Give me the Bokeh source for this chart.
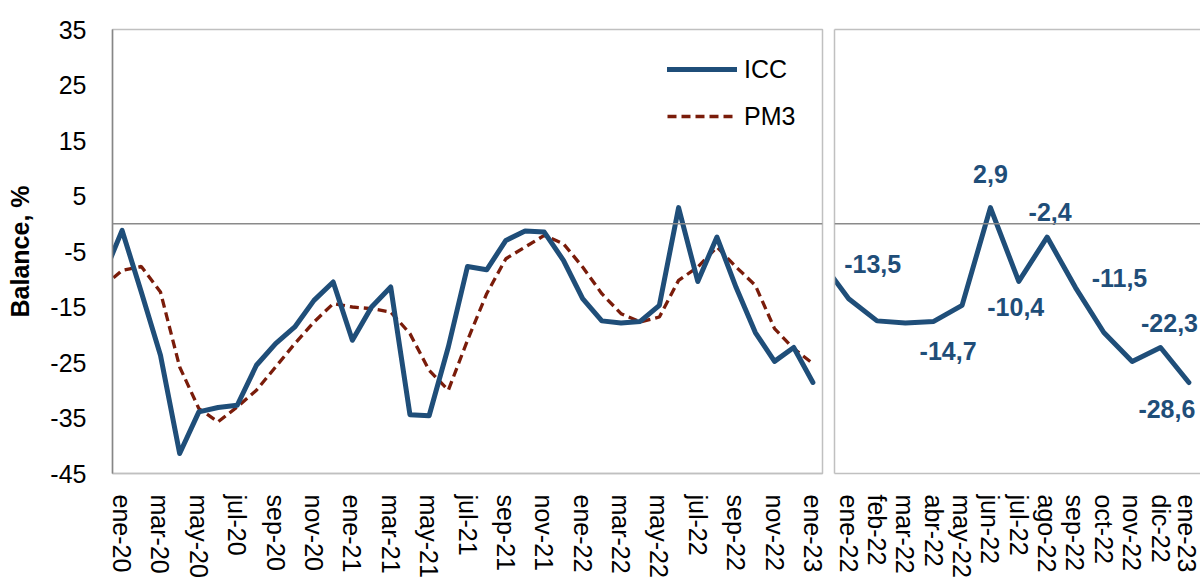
from bokeh.plotting import figure
from bokeh.models import (FixedTicker, Span, Legend, LegendItem, LinearAxis,
                          Range1d, ColumnDataSource)
from bokeh.layouts import row
from bokeh.embed import file_html
from bokeh.resources import INLINE
from bokeh.core.properties import value

# ---------------- data ----------------
months = ["dic-19",
          "ene-20", "feb-20", "mar-20", "abr-20", "may-20", "jun-20",
          "jul-20", "ago-20", "sep-20", "oct-20", "nov-20", "dic-20",
          "ene-21", "feb-21", "mar-21", "abr-21", "may-21", "jun-21",
          "jul-21", "ago-21", "sep-21", "oct-21", "nov-21", "dic-21",
          "ene-22", "feb-22", "mar-22", "abr-22", "may-22", "jun-22",
          "jul-22", "ago-22", "sep-22", "oct-22", "nov-22", "dic-22",
          "ene-23"]

icc = [-9.6,
       -1.2, -12.3, -23.7, -41.4, -33.9, -33.1, -32.7, -25.5, -21.6, -18.6, -13.8, -10.5,
       -21.0, -15.0, -11.4, -34.4, -34.6, -22.2, -7.7, -8.3, -3.0, -1.3, -1.5, -6.6,
       -13.5, -17.5, -17.9, -17.6, -14.7, 2.9, -10.4, -2.4, -11.5, -19.6, -24.8, -22.3,
       -28.6]

pm3 = [-11.4,
       -8.4, -7.7, -12.3, -25.8, -33.3, -35.7, -33.0, -30.0, -25.8, -21.6, -17.7, -14.4,
       -15.0, -15.3, -15.9, -19.8, -26.4, -30.0, -21.0, -12.6, -6.3, -4.2, -2.1, -3.6,
       -7.8, -12.6, -16.2, -17.7, -16.8, -10.2, -7.8, -4.2, -7.8, -11.1, -18.9, -22.5,
       -25.2]

labelled_months = ["ene-22", "may-22", "jun-22", "jul-22", "ago-22", "sep-22",
                   "dic-22", "ene-23"]

y_ticks = [-45, -35, -25, -15, -5, 5, 15, 25, 35]

# ---------------- styles ----------------
BLUE = "#1f4e79"
RED = "#7a1c0a"
FONT = "Liberation Sans"
label_offsets = {"ene-22": (24, -35), "may-22": (-14, 46), "jun-22": (0, -34),
                 "jul-22": (-3, 26), "ago-22": (3, -25), "sep-22": (44, -10),
                 "dic-22": (9, -25), "ene-23": (-22, 27)}


def style_month_axis(ax):
    ax.major_label_orientation = "vertical"
    ax.major_label_text_font = FONT
    ax.major_label_text_font_size = "25px"
    ax.major_label_text_color = "black"
    ax.major_label_standoff = 21
    ax.major_tick_line_color = None
    ax.minor_tick_line_color = None
    ax.major_tick_out = 0
    ax.axis_line_color = "#c0c0c0"
    ax.axis_line_width = 1.5


# ---------------- left panel ----------------
start_left = months.index("ene-20")
x_left = [i - start_left for i in range(len(months))]
src_left = ColumnDataSource(dict(x=x_left, icc=icc, pm3=pm3))

p1 = figure(width=827, height=583, output_backend="svg", toolbar_location=None,
            x_range=Range1d(-0.5, 36.5), y_range=Range1d(-45, 35),
            min_border_left=112, min_border_right=5, min_border_top=29,
            min_border_bottom=110)
p1.outline_line_color = "#c0c0c0"
p1.outline_line_width = 1.5
p1.xgrid.visible = False
p1.ygrid.visible = False
p1.background_fill_color = "white"
p1.border_fill_color = "white"

p1.add_layout(Span(location=0, dimension="width", line_color="#8a8a8a", line_width=1.5))

r_pm3 = p1.line("x", "pm3", source=src_left, line_color=RED, line_width=3.3,
                line_dash="9 5")
r_icc = p1.line("x", "icc", source=src_left, line_color=BLUE, line_width=5,
                line_cap="round", line_join="round")

yax = p1.left[0]
yax.ticker = FixedTicker(ticks=y_ticks)
yax.major_label_overrides = {t: str(t) for t in y_ticks}
yax.axis_label = "Balance, %"
yax.axis_label_text_font = FONT
yax.axis_label_text_font_style = "bold"
yax.axis_label_text_font_size = "25px"
yax.axis_label_text_color = "black"
yax.axis_label_standoff = 13
yax.major_label_text_font = FONT
yax.major_label_text_font_size = "25px"
yax.major_label_text_color = "black"
yax.major_label_standoff = 26
yax.major_tick_line_color = None
yax.minor_tick_line_color = None
yax.major_tick_out = 0
yax.axis_line_color = "#868686"
yax.axis_line_width = 1.5

left_ticks = list(range(0, 37, 2))
xax1 = p1.below[0]
xax1.ticker = FixedTicker(ticks=left_ticks)
xax1.major_label_overrides = {t: months[t + start_left] for t in left_ticks}
style_month_axis(xax1)

legend = Legend(items=[LegendItem(label="ICC", renderers=[r_icc]),
                       LegendItem(label="PM3", renderers=[r_pm3])],
                location=(555, 337), padding=0, margin=0, spacing=7,
                glyph_width=70, glyph_height=40, label_height=40,
                label_standoff=7, label_text_font=FONT,
                label_text_font_size="25px", label_text_color="black",
                background_fill_alpha=0, border_line_color=None)
p1.add_layout(legend)

# ---------------- right panel ----------------
start_right = months.index("ene-22")
sub = slice(start_right - 1, len(months))
right_months = months[sub]
x_right = [i - 1 for i in range(len(right_months))]
src_right = ColumnDataSource(dict(x=x_right, icc=icc[sub]))

lab_x, lab_y, lab_t, lab_dx, lab_dy = [], [], [], [], []
for m in labelled_months:
    i = months.index(m)
    lab_x.append(i - start_right)
    lab_y.append(icc[i])
    lab_t.append(f"{icc[i]:.1f}".replace(".", ","))
    lab_dx.append(label_offsets[m][0])
    lab_dy.append(label_offsets[m][1])
src_labels = ColumnDataSource(dict(x=lab_x, y=lab_y, t=lab_t, dx=lab_dx, dy=lab_dy))

p2 = figure(width=373, height=583, output_backend="svg", toolbar_location=None,
            x_range=Range1d(-0.5, 12.41), y_range=Range1d(-45, 35),
            min_border_left=7, min_border_right=0, min_border_top=29,
            min_border_bottom=110)
p2.outline_line_color = None
p2.xgrid.visible = False
p2.ygrid.visible = False
p2.background_fill_color = "white"
p2.border_fill_color = "white"

p2.add_layout(Span(location=0, dimension="width", line_color="#8a8a8a", line_width=1.5))
p2.line("x", "icc", source=src_right, line_color=BLUE, line_width=5,
        line_cap="round", line_join="round")
p2.text("x", "y", text="t", x_offset="dx", y_offset="dy", source=src_labels,
        text_font=value(FONT), text_font_style="bold", text_font_size="25px",
        text_color=BLUE, text_align="center", text_baseline="middle")

yax2 = p2.left[0]
yax2.ticker = FixedTicker(ticks=[])
yax2.major_label_standoff = 0
yax2.major_tick_out = 0
yax2.major_tick_line_color = None
yax2.minor_tick_line_color = None
yax2.axis_line_color = "#c0c0c0"
yax2.axis_line_width = 1.5

top_axis = LinearAxis(ticker=FixedTicker(ticks=[]), major_label_standoff=0,
                      major_tick_out=0, major_tick_line_color=None,
                      minor_tick_line_color=None, axis_line_color="#c0c0c0",
                      axis_line_width=1.5)
p2.add_layout(top_axis, "above")

right_ticks = list(range(0, 13))
xax2 = p2.below[0]
xax2.ticker = FixedTicker(ticks=right_ticks)
xax2.major_label_overrides = {t: right_months[t + 1] for t in right_ticks}
style_month_axis(xax2)

layout = row(p1, p2, spacing=0)

with open("out.html", "w") as f:
    f.write(file_html(layout, INLINE))
